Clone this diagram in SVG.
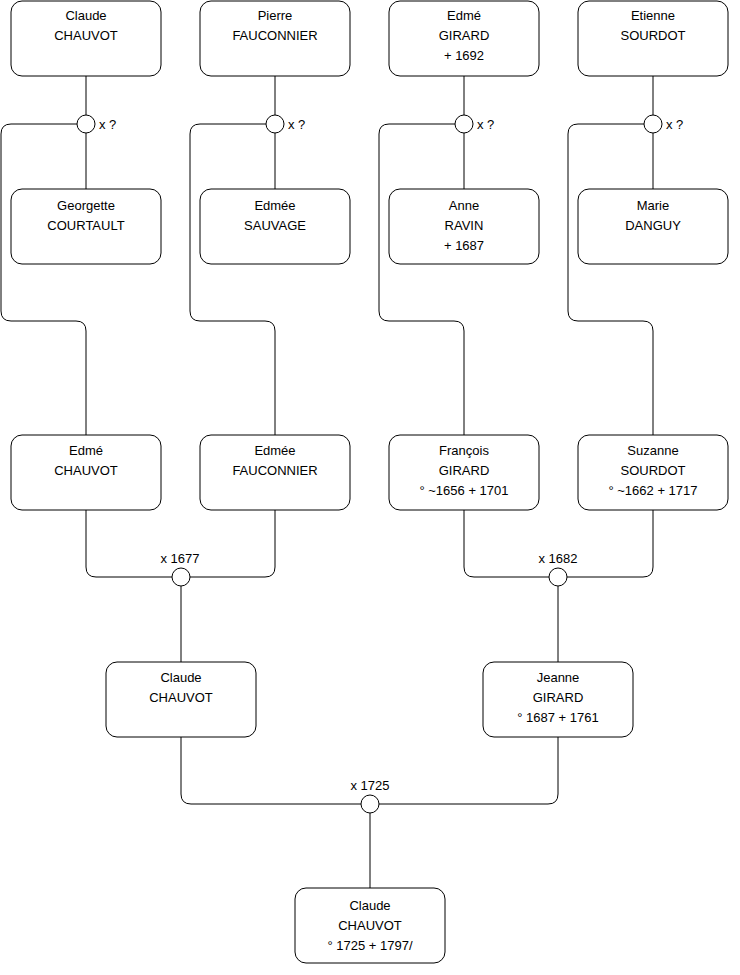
<svg xmlns="http://www.w3.org/2000/svg" width="740" height="975" viewBox="0 0 740 975">
<style>
.n{fill:#fff;stroke:#000;stroke-width:1}
.t{font-family:"Liberation Sans",Arial,sans-serif;font-size:13px;fill:#000;text-anchor:middle}
.l{font-family:"Liberation Sans",Arial,sans-serif;font-size:13px;fill:#000}
.c{fill:none;stroke:#000;stroke-width:1}
.m{fill:#fff;stroke:#000;stroke-width:1}
</style>
<rect width="740" height="975" fill="#fff"/>
<g id="connectors">
<path class="c" d="M86,76 V115 M86,133 V189 M77,124 H11 Q1,124 1,134 V311 Q1,321 11,321 H76 Q86,321 86,331 V435"/>
<path class="c" d="M275,76 V115 M275,133 V189 M266,124 H200 Q190,124 190,134 V311 Q190,321 200,321 H265 Q275,321 275,331 V435"/>
<path class="c" d="M464,76 V115 M464,133 V189 M455,124 H389 Q379,124 379,134 V311 Q379,321 389,321 H454 Q464,321 464,331 V435"/>
<path class="c" d="M653,76 V115 M653,133 V189 M644,124 H578 Q568,124 568,134 V311 Q568,321 578,321 H643 Q653,321 653,331 V435"/>
<path class="c" d="M86,510 V567 Q86,577 96,577 H172 M275,510 V567 Q275,577 265,577 H190 M181,586 V662"/>
<path class="c" d="M464,510 V567 Q464,577 474,577 H549 M653,510 V567 Q653,577 643,577 H567 M558,586 V662"/>
<path class="c" d="M181,737 V794 Q181,804 191,804 H361 M558,737 V794 Q558,804 548,804 H379 M370,813 V888"/>
</g>
<g id="m1"><circle class="m" cx="86" cy="124" r="9"/><text class="l" x="99" y="129">x ?</text></g>
<g id="m2"><circle class="m" cx="275" cy="124" r="9"/><text class="l" x="288" y="129">x ?</text></g>
<g id="m3"><circle class="m" cx="464" cy="124" r="9"/><text class="l" x="477" y="129">x ?</text></g>
<g id="m4"><circle class="m" cx="653" cy="124" r="9"/><text class="l" x="666" y="129">x ?</text></g>
<g id="m5"><circle class="m" cx="181" cy="577" r="9"/><text class="t" x="180" y="563">x 1677</text></g>
<g id="m6"><circle class="m" cx="558" cy="577" r="9"/><text class="t" x="558" y="563">x 1682</text></g>
<g id="m7"><circle class="m" cx="370" cy="804" r="9"/><text class="t" x="370" y="790">x 1725</text></g>

<g id="n1"><rect class="n" x="11" y="1" width="150" height="75" rx="11"/><text class="t" x="86" y="20">Claude</text><text class="t" x="86" y="40">CHAUVOT</text></g>
<g id="n2"><rect class="n" x="200" y="1" width="150" height="75" rx="11"/><text class="t" x="275" y="20">Pierre</text><text class="t" x="275" y="40">FAUCONNIER</text></g>
<g id="n3"><rect class="n" x="389" y="1" width="150" height="75" rx="11"/><text class="t" x="464" y="20">Edmé</text><text class="t" x="464" y="40">GIRARD</text><text class="t" x="464" y="60">+ 1692</text></g>
<g id="n4"><rect class="n" x="578" y="1" width="150" height="75" rx="11"/><text class="t" x="653" y="20">Etienne</text><text class="t" x="653" y="40">SOURDOT</text></g>

<g id="n5"><rect class="n" x="11" y="189" width="150" height="75" rx="11"/><text class="t" x="86" y="210">Georgette</text><text class="t" x="86" y="230">COURTAULT</text></g>
<g id="n6"><rect class="n" x="200" y="189" width="150" height="75" rx="11"/><text class="t" x="275" y="210">Edmée</text><text class="t" x="275" y="230">SAUVAGE</text></g>
<g id="n7"><rect class="n" x="389" y="189" width="150" height="75" rx="11"/><text class="t" x="464" y="210">Anne</text><text class="t" x="464" y="230">RAVIN</text><text class="t" x="464" y="250">+ 1687</text></g>
<g id="n8"><rect class="n" x="578" y="189" width="150" height="75" rx="11"/><text class="t" x="653" y="210">Marie</text><text class="t" x="653" y="230">DANGUY</text></g>

<g id="n9"><rect class="n" x="11" y="435" width="150" height="75" rx="11"/><text class="t" x="86" y="455">Edmé</text><text class="t" x="86" y="475">CHAUVOT</text></g>
<g id="n10"><rect class="n" x="200" y="435" width="150" height="75" rx="11"/><text class="t" x="275" y="455">Edmée</text><text class="t" x="275" y="475">FAUCONNIER</text></g>
<g id="n11"><rect class="n" x="389" y="435" width="150" height="75" rx="11"/><text class="t" x="464" y="455">François</text><text class="t" x="464" y="475">GIRARD</text><text class="t" x="464" y="495">° ~1656 + 1701</text></g>
<g id="n12"><rect class="n" x="578" y="435" width="150" height="75" rx="11"/><text class="t" x="653" y="455">Suzanne</text><text class="t" x="653" y="475">SOURDOT</text><text class="t" x="653" y="495">° ~1662 + 1717</text></g>

<g id="n13"><rect class="n" x="106" y="662" width="150" height="75" rx="11"/><text class="t" x="181" y="682">Claude</text><text class="t" x="181" y="702">CHAUVOT</text></g>
<g id="n14"><rect class="n" x="483" y="662" width="150" height="75" rx="11"/><text class="t" x="558" y="682">Jeanne</text><text class="t" x="558" y="702">GIRARD</text><text class="t" x="558" y="722">° 1687 + 1761</text></g>

<g id="n15"><rect class="n" x="295" y="888" width="150" height="75" rx="11"/><text class="t" x="370" y="910">Claude</text><text class="t" x="370" y="930">CHAUVOT</text><text class="t" x="370" y="950">° 1725 + 1797/</text></g>
</svg>
